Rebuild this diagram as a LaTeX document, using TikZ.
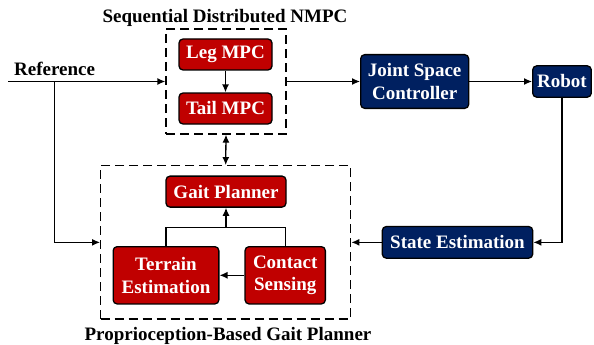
\documentclass[tikz,border=0pt]{standalone}
\usepackage{fontspec}
\setmainfont{Liberation Serif}
\usetikzlibrary{arrows.meta}
\definecolor{mpcred}{RGB}{192,0,0}
\definecolor{ctrlblue}{RGB}{0,32,96}
\tikzset{
  redbox/.style={draw=black,fill=mpcred,text=white,rounded corners=4pt,line width=1.3pt,
    align=center,inner sep=0pt,font=\fontsize{19}{22.5}\selectfont\bfseries},
  bluebox/.style={redbox,fill=ctrlblue},
  group/.style={draw=black,dash pattern=on 9pt off 5pt,line width=1.3pt,inner sep=0pt},
  title/.style={font=\fontsize{19}{22.5}\selectfont\bfseries,inner sep=0pt},
  flow/.style={line width=1.3pt,-{Latex[length=8pt,width=7pt]}},
  flowboth/.style={line width=1.3pt,{Latex[length=8pt,width=7pt]}-{Latex[length=8pt,width=7pt]}},
}

\begin{document}
\begin{tikzpicture}[x=1pt,y=-1pt]
  \useasboundingbox (0,0) rectangle (594,345);
  % groups
  \node[group,minimum width=120pt,minimum height=105pt] (nmpc) at (226,81.5) {};
  \node[group,minimum width=250pt,minimum height=153.3pt] (planner) at (225.7,242.35) {};
  \node[title,anchor=base] (nmpctitle) at (225,22.7) {Sequential Distributed NMPC};
  \node[title,anchor=base] (plannertitle) at (228,340) {Proprioception-Based Gait Planner};
  % blocks
  \node[redbox,minimum width=93pt,minimum height=31pt] (leg) at (225.5,54.5) {Leg MPC};
  \node[redbox,minimum width=93pt,minimum height=31pt] (tail) at (225.5,108.5) {Tail MPC};
  \node[bluebox,minimum width=108pt,minimum height=53.7pt] (jsc) at (414.7,81.5) {Joint Space\\Controller};
  \node[bluebox,minimum width=58.6pt,minimum height=31.3pt] (robot) at (562,81.5) {Robot};
  \node[bluebox,minimum width=150.4pt,minimum height=31.6pt] (state) at (457.5,242.35) {State Estimation};
  \node[redbox,minimum width=120pt,minimum height=31pt] (gait) at (226,191.6) {Gait Planner};
  \node[redbox,minimum width=105.7pt,minimum height=57.3pt] (terrain) at (166,275.3) {Terrain\\Estimation};
  \node[redbox,minimum width=80.3pt,minimum height=57.3pt] (contact) at (285.2,275.3) {Contact\\Sensing};
  % reference input
  \node[title,anchor=base west] (reflabel) at (14,75) {Reference};
  \coordinate (ref) at (8,81.5);
  \coordinate (branch) at (54.3,81.5);
  \coordinate (join) at (226,227.3);
  % connectors
  \draw[flow] (ref) -- (nmpc.west);
  \draw[flow] (branch) |- (planner.west);
  \draw[flow] (nmpc.east) -- (jsc.west);
  \draw[flow] (jsc) -- (robot);
  \draw[flow] (robot.south) |- (state.east);
  \draw[flow] (state.west) -- (planner.east);
  \draw[flow] (leg) -- (tail);
  \draw[flowboth] (nmpc.south) -- (planner.north);
  \draw[flow] (contact) -- (terrain);
  \draw[line width=1.3pt] (terrain.north) |- (join) -| (contact.north);
  \draw[flow] (join) -- (gait.south);
\end{tikzpicture}
\end{document}
